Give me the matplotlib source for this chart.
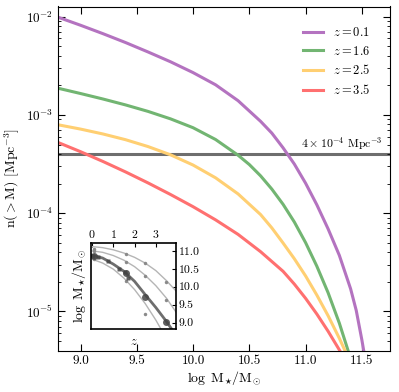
import matplotlib
matplotlib.use("Agg")
import matplotlib.pyplot as plt
import numpy as np

plt.rcParams['font.family'] = 'serif'
plt.rcParams['font.serif'] = ['cmr10', 'DejaVu Serif']
plt.rcParams['mathtext.fontset'] = 'cm'
plt.rcParams['axes.formatter.use_mathtext'] = True
plt.rcParams['axes.unicode_minus'] = False

# ---- main panel data: cumulative number density, log10 n(>M) [Mpc^-3] ----
labels = ['$z = 0.1$', '$z = 1.6$', '$z = 2.5$', '$z = 3.5$']
colors = ['#b473c0', '#72b572', '#ffcf72', '#ff7070']

x_z01 = [8.8, 9.0, 9.2, 9.4, 9.6, 9.8, 10.0, 10.2, 10.4, 10.6, 10.7, 10.8, 10.9, 11.0,
         11.1, 11.2, 11.3, 11.4, 11.45, 11.5, 11.53]
logn_z01 = [-2.005, -2.087, -2.173, -2.263, -2.359, -2.459, -2.569, -2.693, -2.855, -3.065,
            -3.185, -3.335, -3.500, -3.695, -3.915, -4.160, -4.430, -4.770, -4.990, -5.290, -5.490]

x_z16 = [8.8, 9.0, 9.2, 9.4, 9.6, 9.8, 10.0, 10.2, 10.4, 10.5, 10.6, 10.7, 10.8, 10.9,
         11.0, 11.1, 11.2, 11.3, 11.4]
logn_z16 = [-2.728, -2.782, -2.838, -2.898, -2.964, -3.040, -3.130, -3.250, -3.410, -3.505,
            -3.620, -3.755, -3.910, -4.090, -4.300, -4.540, -4.810, -5.120, -5.480]

x_z25 = [8.8, 9.0, 9.2, 9.4, 9.6, 9.8, 10.0, 10.2, 10.4, 10.6, 10.7, 10.8, 10.9, 11.0,
         11.1, 11.2, 11.3, 11.4]
logn_z25 = [-3.100, -3.144, -3.194, -3.252, -3.322, -3.406, -3.510, -3.640, -3.804, -4.014,
            -4.150, -4.304, -4.464, -4.639, -4.834, -5.044, -5.274, -5.524]

x_z35 = [8.8, 9.0, 9.2, 9.4, 9.6, 9.8, 10.0, 10.2, 10.4, 10.6, 10.8, 10.9, 11.0, 11.1,
         11.2, 11.3, 11.4]
logn_z35 = [-3.280, -3.374, -3.474, -3.580, -3.692, -3.810, -3.934, -4.068, -4.216, -4.392,
            -4.592, -4.722, -4.867, -5.027, -5.202, -5.392, -5.597]

n_fixed = 4e-4
fixed_label = r'$4\times10^{-4}\ \mathrm{Mpc}^{-3}$'

# ---- inset data: log M* at fixed number density vs z ----
z_grid = [0.0, 0.5, 1.0, 1.5, 2.0, 2.5, 3.0, 3.5, 4.0]
m_top = [11.12, 11.09, 11.03, 10.94, 10.82, 10.66, 10.45, 10.17, 9.85]
m_second = [11.00, 10.96, 10.87, 10.74, 10.56, 10.32, 10.03, 9.68, 9.25]
m_thick = [10.88, 10.80, 10.63, 10.43, 10.15, 9.78, 9.42, 9.03, 8.60]
m_lower = [10.77, 10.66, 10.49, 10.24, 9.92, 9.53, 9.07, 8.55, 8.00]

dot_z = [0.1, 0.1, 0.1, 1.6, 1.6, 1.6, 2.5, 2.5, 2.5, 3.5, 3.5]
dot_m = [11.06, 10.99, 10.78, 10.91, 10.69, 10.16, 10.65, 10.30, 9.23, 10.13, 9.63]

sq_z = [0.05, 0.30, 0.75, 1.25, 1.55, 1.70]
sq_m = [10.86, 10.83, 10.72, 10.50, 10.40, 10.25]

big_z = [0.1, 1.6, 2.5, 3.5]
big_m = [10.86, 10.37, 9.72, 9.02]

W, H = 399, 392
fig = plt.figure(figsize=(W / 100, H / 100), dpi=100)
ax = fig.add_axes([58 / W, 1 - 350.5 / H, (390 - 58) / W, (350.5 - 6.5) / H])

for xs, ln, c, lab in zip([x_z01, x_z16, x_z25, x_z35],
                          [logn_z01, logn_z16, logn_z25, logn_z35], colors, labels):
    ax.plot(xs, np.power(10.0, ln), color=c, lw=2.2, label=lab)

ax.axhline(n_fixed, color='#555555', lw=2.2, alpha=0.85, zorder=1)
ax.text(11.685, n_fixed * 1.04, fixed_label, ha='right', va='bottom', fontsize=8.5)

ax.set_yscale('log')
ax.set_xlim(8.8, 11.75)
ax.set_ylim(4e-6, 1.27e-2)
ax.set_xticks([9.0, 9.5, 10.0, 10.5, 11.0, 11.5])
ax.set_xticklabels(['9.0', '9.5', '10.0', '10.5', '11.0', '11.5'])
ax.tick_params(which='both', direction='in', top=True, right=True, labelsize=9.5)
ax.tick_params(which='major', length=5)
ax.tick_params(which='minor', length=2.5)
ax.set_xlabel(r'$\log\ \mathrm{M}_{\star}/\mathrm{M}_{\odot}$', fontsize=10, labelpad=1)
ax.set_ylabel(r'n$(>$M) [Mpc$^{-3}$]', fontsize=10, labelpad=3)

leg = ax.legend(loc='upper left', bbox_to_anchor=(0.738, 0.943), frameon=False, fontsize=9,
                handlelength=1.6, handletextpad=0.8, labelspacing=0.45, borderpad=0, borderaxespad=0)

# ---- inset ----
ax2 = fig.add_axes([91 / W, 1 - 329 / H, (176 - 91) / W, (329 - 243) / H])
ax2.plot(z_grid, m_top, color='#b5b5b5', lw=1.0)
ax2.plot(z_grid, m_second, color='#b5b5b5', lw=1.0)
ax2.plot(z_grid, m_lower, color='#b5b5b5', lw=1.0)
ax2.plot(z_grid, m_thick, color='#555555', lw=2.0, alpha=0.85)
ax2.plot(dot_z, dot_m, 'o', color='#8a8a8a', ms=2.5, mec='none')
ax2.plot(sq_z, sq_m, 's', color='#444444', ms=3.5, mec='none', alpha=0.85)
ax2.plot(big_z, big_m, 'o', color='#444444', ms=5, mec='none', alpha=0.85)
ax2.set_xlim(-0.05, 3.95)
ax2.set_ylim(8.82, 11.22)
ax2.set_xticks([0, 1, 2, 3])
ax2.set_yticks([9.0, 9.5, 10.0, 10.5, 11.0])
ax2.set_yticklabels(['9.0', '9.5', '10.0', '10.5', '11.0'])
ax2.xaxis.tick_top()
ax2.yaxis.tick_right()
ax2.tick_params(which='both', direction='in', labelsize=8.5, length=3, pad=2)
ax2.set_ylabel(r'$\log\ \mathrm{M}_{\star}/\mathrm{M}_{\odot}$', fontsize=10, labelpad=2)
ax2.yaxis.set_label_position('left')
ax2.set_xlabel(r'$z$', fontsize=9, labelpad=5)
ax2.xaxis.set_label_position('bottom')
for s in ax2.spines.values():
    s.set_linewidth(1.2)

fig.savefig('out.png', dpi=100)
